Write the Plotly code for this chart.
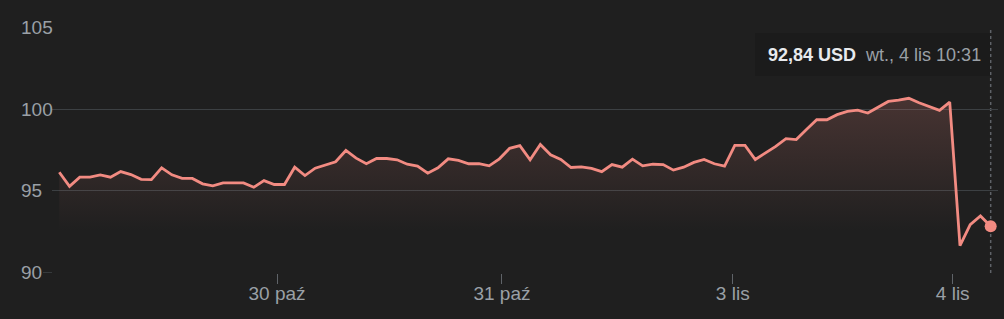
import plotly.graph_objects as go

# ---- data ----
values = [
    96.14, 95.28, 95.84, 95.84, 95.98, 95.84, 96.18, 96.00, 95.71, 95.69,
    96.41, 95.98, 95.77, 95.76, 95.43, 95.31, 95.49, 95.51, 95.49, 95.22,
    95.63, 95.39, 95.39,
    96.45, 95.94, 96.39, 96.57, 96.78, 97.47, 97.00, 96.66, 96.98, 96.98,
    96.90, 96.63, 96.51, 96.08, 96.41, 96.96, 96.86, 96.66, 96.66, 96.53,
    96.96, 97.60, 97.77,
    96.90, 97.84, 97.21, 96.92, 96.43, 96.47, 96.37, 96.18, 96.61, 96.45,
    96.94, 96.53, 96.63, 96.61, 96.27, 96.45, 96.74, 96.92, 96.66, 96.51,
    97.78, 97.78,
    96.92, 97.31, 97.72, 98.19, 98.14, 98.76, 99.35, 99.35, 99.66, 99.86,
    99.94, 99.76, 100.12, 100.47, 100.55, 100.66, 100.39, 100.17, 99.92, 100.43,
    91.65, 92.94, 93.47, 92.84,
]
tick_pos = [21.27, 43.25, 65.8, 87.29]
tick_text = ["30 paź", "31 paź", "3 lis", "4 lis"]
y_ticks = [90, 95, 100, 105]
currency = "USD"
last_time_label = "wt., 4 lis 10:31"

# ---- layout geometry ----
W, H = 1004, 319
L, R, T, B = 52, 6, 27, 46
PW, PH = W - L - R, H - T - B
BG = "#1f1f1f"
LINE = "#f28b82"
GRID = "#3c4043"
LABEL = "#9aa0a6"
FONT = "Liberation Sans, Arial, sans-serif"

def px_x(p):
    return (p - L) / PW

def px_y(p):
    return (H - B - p) / PH

x = list(range(len(values)))

fig = go.Figure()
fig.add_trace(go.Scatter(
    x=x, y=values, mode="lines",
    line=dict(color=LINE, width=2.8),
    fill="tozeroy",
    fillgradient=dict(
        type="vertical",
        colorscale=[[0, "rgba(242,139,130,0)"], [1, "rgba(242,139,130,0.20)"]],
        start=92.5, stop=101,
    ),
    hoverinfo="skip", showlegend=False,
))
fig.add_trace(go.Scatter(
    x=[x[-1]], y=[values[-1]], mode="markers",
    marker=dict(color=LINE, size=12),
    hoverinfo="skip", showlegend=False,
))

# hover guide line (dotted) at last point
fig.add_shape(type="line", xref="x", yref="paper",
              x0=x[-1], x1=x[-1], y0=0, y1=px_y(28),
              line=dict(color="#5f6368", width=1.5, dash="dot"), layer="below")
# baseline extension at 90
fig.add_shape(type="line", xref="paper", yref="y",
              x0=px_x(43), x1=0, y0=y_ticks[0], y1=y_ticks[0],
              line=dict(color=GRID, width=1))
# tooltip box
fig.add_shape(type="rect", xref="paper", yref="paper",
              x0=px_x(755), x1=px_x(990), y0=px_y(76), y1=px_y(33),
              fillcolor="#1b1b1b", line=dict(width=0), layer="above")

value_txt = f"{values[-1]:.2f}".replace(".", ",")
fig.add_annotation(
    xref="paper", yref="paper", x=px_x(766), y=px_y(55),
    xanchor="left", yanchor="middle", showarrow=False,
    text=f"<b>{value_txt} {currency}</b>  <span style='color:{LABEL}'>{last_time_label}</span>",
    font=dict(family=FONT, size=18, color="#e8eaed"),
)

for v in y_ticks:
    fig.add_annotation(
        xref="paper", yref="y", x=px_x(19), y=v,
        xanchor="left", yanchor="middle", showarrow=False,
        text=str(v), font=dict(family=FONT, size=19, color=LABEL),
    )

fig.update_layout(
    width=W, height=H,
    margin=dict(l=L, r=R, t=T, b=B, pad=0),
    paper_bgcolor=BG, plot_bgcolor=BG,
    font=dict(family=FONT, color=LABEL),
    xaxis=dict(
        range=[(52 - 59.3) / 10.235, (998 - 59.3) / 10.235],
        tickvals=tick_pos, ticktext=tick_text,
        ticks="outside", ticklen=10, tickwidth=1, tickcolor="#5f6368",
        ticklabelstandoff=-7,
        showgrid=False, zeroline=False, showline=False,
        tickfont=dict(family=FONT, size=19, color=LABEL),
        fixedrange=True,
    ),
    yaxis=dict(
        range=[89.98, 105.02],
        tickvals=y_ticks, showticklabels=False,
        showgrid=True, gridcolor=GRID, gridwidth=1,
        zeroline=False, showline=False, ticks="",
        fixedrange=True,
    ),
)

fig.write_html("out.html")
